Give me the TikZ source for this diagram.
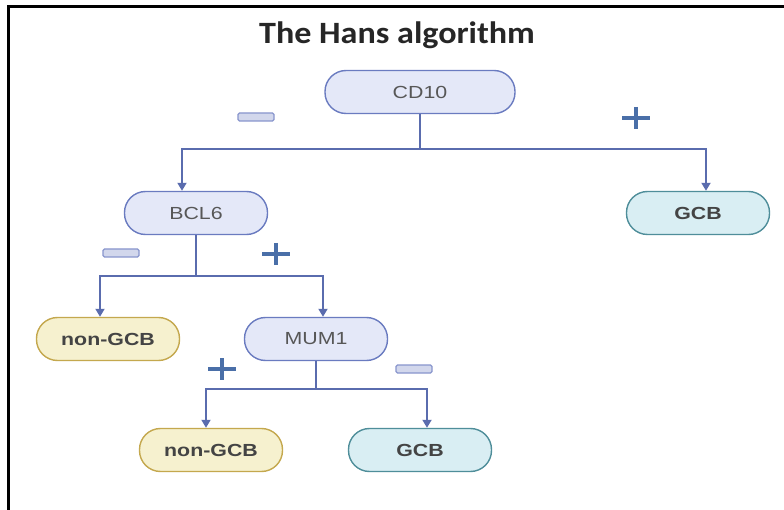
\documentclass[tikz,border=0pt]{standalone}
\usepackage{fontspec}
\setmainfont{Liberation Sans}
\newfontfamily\titlefont[FakeStretch=1.1]{Carlito}
\newfontfamily\boxfont[FakeStretch=1.22]{Liberation Sans}
\usetikzlibrary{arrows.meta}

\definecolor{linkblue}{HTML}{5A6CAE}
\definecolor{signblue}{HTML}{4A6FA8}
\definecolor{markline}{HTML}{6A7BC0}
\definecolor{markfill}{HTML}{E4E8F8}
\definecolor{gcbline}{HTML}{4F8E9A}
\definecolor{gcbfill}{HTML}{D9EEF3}
\definecolor{ngline}{HTML}{C4A84E}
\definecolor{ngfill}{HTML}{F6F1CF}
\definecolor{textgray}{HTML}{444444}

\begin{document}
\begin{tikzpicture}[x=1pt,y=-1pt,
    box/.style={rounded corners=21pt, minimum width=143pt, minimum height=43pt,
      line width=1.4pt, inner sep=0pt},
    marker/.style={box, draw=markline, fill=markfill, text=textgray!90,
      font=\boxfont\fontsize{17.5}{17.5}\selectfont},
    gcb/.style={box, draw=gcbline, fill=gcbfill, text=textgray,
      font=\boxfont\bfseries\fontsize{17.5}{17.5}\selectfont},
    nongcb/.style={box, draw=ngline, fill=ngfill, text=textgray,
      font=\boxfont\bfseries\fontsize{17.5}{17.5}\selectfont},
    link/.style={draw=linkblue, line width=1.8pt},
    tip/.style={link, -{Triangle[width=9pt,length=8pt]}},
    minussign/.style={draw=markline!80, fill=markline!30, line width=1.3pt,
      rounded corners=1.5pt, minimum width=36pt, minimum height=8pt, inner sep=0pt},
    plussign/.style={minimum width=28pt, minimum height=22pt, inner sep=0pt,
      path picture={\draw[signblue, line width=4.5pt]
        (path picture bounding box.north) -- (path picture bounding box.south)
        (path picture bounding box.west) -- (path picture bounding box.east);}}]

      \useasboundingbox (0,0) rectangle (784,510);
      \fill[white] (0,0) rectangle (784,510);
      \draw[line width=3pt] (8.5,510) -- (8.5,6.5) -- (784,6.5);

      \node[font=\titlefont\bfseries\fontsize{31}{31}\selectfont, text=black!85] (title) at (397,35) {The Hans algorithm};

      % markers
      \node[marker, minimum width=190pt] (cd10) at (420,92) {CD10};
      \node[marker] (bcl6) at (196,213) {BCL6};
      \node[marker] (mum1) at (316,339) {MUM1};

      % outcomes
      \node[gcb] (gcb1) at (698,213) {GCB};
      \node[nongcb] (ngcb1) at (108,339) {non-GCB};
      \node[nongcb] (ngcb2) at (211,450) {non-GCB};
      \node[gcb] (gcb2) at (420,450) {GCB};

      % CD10 split
      \path (cd10.south) ++(0,35) coordinate (j1);
      \draw[link] (cd10.south) to (j1);
      \draw[tip] (j1) -| ([xshift=-14pt]bcl6.north);
      \draw[tip] (j1) -| ([xshift=8pt]gcb1.north);
      \node[minussign] (m1) at (256,117) {};
      \node[plussign] (p1) at (636,118) {};

      % BCL6 split
      \path (bcl6.south) ++(0,41) coordinate (j2);
      \draw[link] (bcl6.south) to (j2);
      \draw[tip] (j2) -| ([xshift=-8pt]ngcb1.north);
      \draw[tip] (j2) -| ([xshift=7pt]mum1.north);
      \node[minussign] (m2) at (121,253) {};
      \node[plussign] (p2) at (276,254) {};

      % MUM1 split
      \path (mum1.south) ++(0,28) coordinate (j3);
      \draw[link] (mum1.south) to (j3);
      \draw[tip] (j3) -| ([xshift=-5pt]ngcb2.north);
      \draw[tip] (j3) -| ([xshift=7pt]gcb2.north);
      \node[plussign] (p3) at (222,369) {};
      \node[minussign] (m3) at (414,369) {};

    \end{tikzpicture}
\end{document}
